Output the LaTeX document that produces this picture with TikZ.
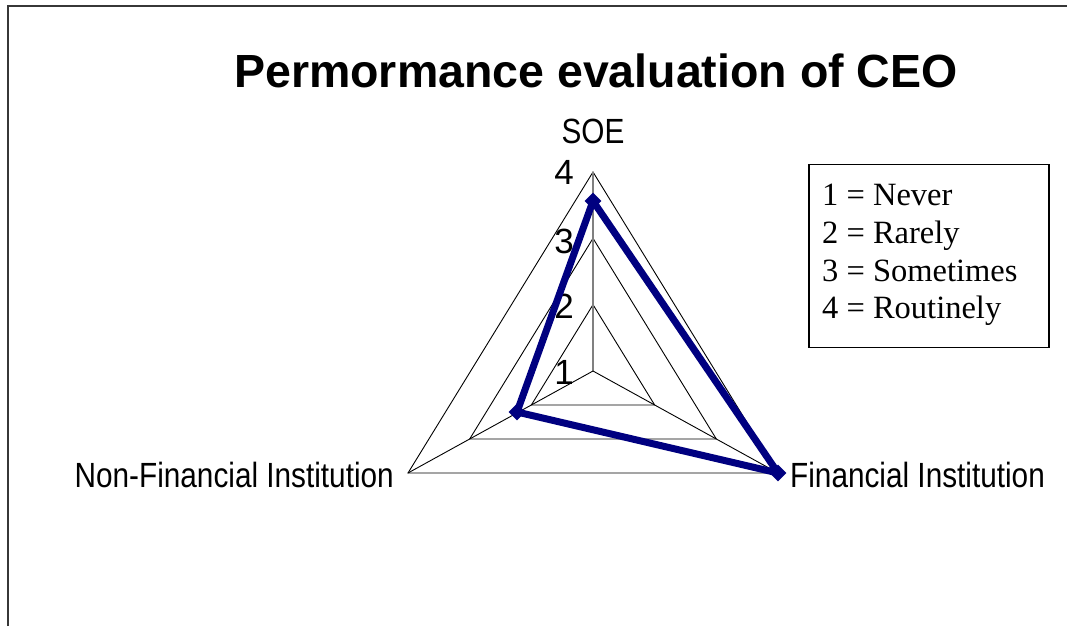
\documentclass[tikz,border=0pt]{standalone}
\usepackage{fontspec}
\setmainfont{Liberation Serif}
\newfontfamily\arialfont{Liberation Sans}
\usetikzlibrary{calc,shapes.geometric}
\definecolor{navyline}{RGB}{0,0,128}
\definecolor{framegray}{RGB}{55,55,55}
\tikzset{
  axislbl/.style={font=\arialfont\fontsize{35}{40}\selectfont, inner sep=0pt},
  ticklbl/.style={font=\arialfont\fontsize{35}{40}\selectfont, inner sep=0pt, anchor=east},
  gridline/.style={black, line width=0.9pt},
  legtext/.style={font=\fontsize{32.5}{36}\selectfont, inner sep=0pt, anchor=base west},
  marker/.style={diamond, fill=navyline, minimum size=17pt, inner sep=0pt},
}
\newcommand{\narrow}[1]{\scalebox{0.85}[1]{#1}}
\begin{document}
\begin{tikzpicture}[x=1pt,y=-1pt]
\useasboundingbox (0,0) rectangle (1067,626);
\fill[white] (0,0) rectangle (1067,626);
\draw[framegray, line width=2pt] (8,626) -- (8,6) -- (1067,6);

% title
\node[font=\arialfont\bfseries\fontsize{46.5}{50}\selectfont, inner sep=0pt, anchor=base] (title) at (596,87) {Permormance evaluation of CEO};

% radar geometry
\coordinate (C) at (593,371);
\coordinate (A) at (593,172);
\coordinate (L) at (408,473);
\coordinate (R) at (778,473);

% rings
\foreach \t in {0.3333,0.6667,1} {
  \draw[gridline] ($(C)!\t!(A)$) -- ($(C)!\t!(R)$) -- ($(C)!\t!(L)$) -- cycle;
}
% spokes
\draw[gray, line width=1.2pt] (C) -- (A);
\draw[gridline] (C) -- (L);
\draw[gridline] (C) -- (R);

% tick labels
\node[ticklbl] (t4) at (574,172) {4};
\node[ticklbl] (t3) at (574,241) {3};
\node[ticklbl] (t2) at (574,306) {2};
\node[ticklbl] (t1) at (574,372) {1};

% axis labels
\node[axislbl, anchor=base] (soe) at (593,143) {\narrow{SOE}};
\node[axislbl, anchor=base east] (nfi) at (394,487) {\narrow{Non-Financial Institution}};
\node[axislbl, anchor=base west] (fi) at (790,487) {\narrow{Financial Institution}};

% data
\coordinate (S) at (593,201);
\coordinate (N) at (517,412);
\coordinate (F) at (778,473);
\draw[navyline, line width=7pt, line join=round] (S) -- (F) -- (N) -- cycle;
\node[marker] (ms) at (S) {};
\node[marker] (mf) at (F) {};
\node[marker] (mn) at (N) {};

% legend
\node[draw=black, line width=1.5pt, minimum width=240pt, minimum height=183pt, inner sep=0pt] (legend) at (929,256) {};
\node[legtext] (l1) at (822,205) {1 = Never};
\node[legtext] (l2) at (822,243) {2 = Rarely};
\node[legtext] (l3) at (822,281) {3 = Sometimes};
\node[legtext] (l4) at (822,318) {4 = Routinely};
\end{tikzpicture}
\end{document}
